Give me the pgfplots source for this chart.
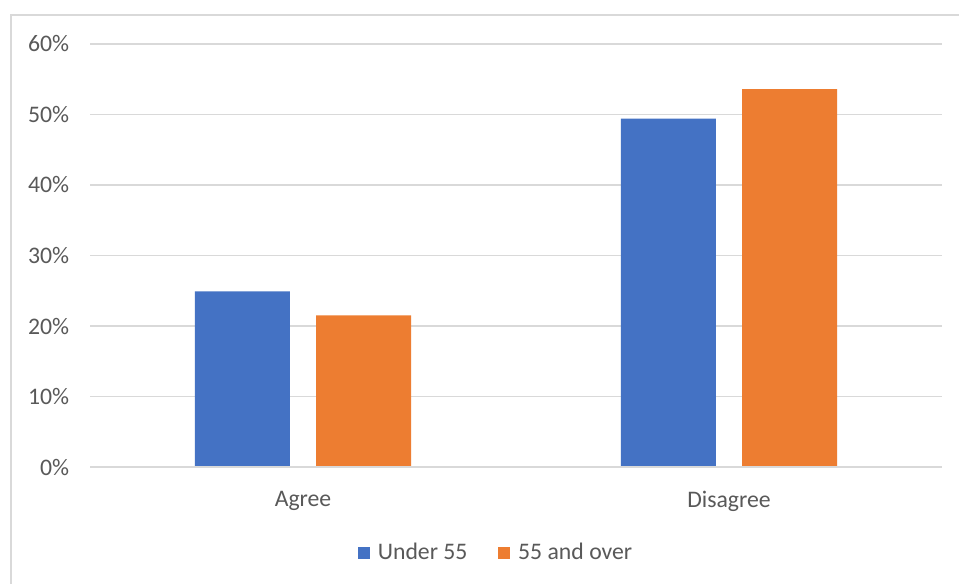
\documentclass[border=0pt]{standalone}
\usepackage{pgfplots}
\pgfplotsset{compat=1.18}
\usepackage{fontspec}
\setmainfont{Carlito}
\definecolor{cblue}{RGB}{68,114,196}
\definecolor{corange}{RGB}{237,125,49}
\definecolor{cgrid}{RGB}{217,217,217}
\definecolor{ctext}{RGB}{89,89,89}
\begin{document}
\fontsize{17.8}{21}\selectfont
\begin{tikzpicture}
\useasboundingbox (0pt,0pt) rectangle (719.25pt,437.25pt);
\fill[white] (0pt,0pt) rectangle (719.25pt,437.25pt);
\draw[cgrid,line width=1.5pt] (8.25pt,426pt) rectangle (800pt,-50pt);
\begin{axis}[
  at={(67.5pt,87pt)}, anchor=south west,
  scale only axis, width=639pt, height=317.25pt,
  xmin=-0.5, xmax=1.5, ymin=0, ymax=60,
  xtick={0,1}, xticklabels={Agree,Disagree},
  ytick={0,10,20,30,40,50,60},
  yticklabel={\pgfmathprintnumber{\tick}\%},
  /pgf/number format/assume math mode=true,
  ymajorgrids, grid style={cgrid,line width=0.9pt},
  axis line style={draw=none},
  major tick style={draw=none},
  yticklabel style={anchor=east,inner sep=0pt,xshift=-15.5pt,text=ctext,font=\fontsize{17.8}{21}\selectfont},
  xticklabel style={anchor=north,inner sep=0pt,yshift=-13.5pt,text=ctext,font=\fontsize{17.8}{21}\selectfont},
  ybar, bar width=71.25pt,
  legend columns=2,
  legend style={draw=none, fill=none, at={(0.4754,-0.2033)}, anchor=center,
    font=\fontsize{17.8}{21}\selectfont, text=ctext,
    nodes={inner sep=0pt},
    /tikz/every odd column/.append style={column sep=6pt},
    /tikz/every even column/.append style={column sep=23pt}},
  legend image code/.code={\fill[#1] (0pt,-4.2pt) rectangle (9pt,4.8pt);},
]
\addplot[fill=cblue, draw=none, bar shift=-45.4pt] coordinates {(0,24.9) (1,49.4)};
\addplot[fill=corange, draw=none, bar shift=45.4pt] coordinates {(0,21.5) (1,53.6)};
\draw[cgrid,line width=0.9pt] (rel axis cs:0,0) -- (rel axis cs:1,0);
\legend{Under 55,55 and over}
\end{axis}
\end{tikzpicture}
\end{document}
